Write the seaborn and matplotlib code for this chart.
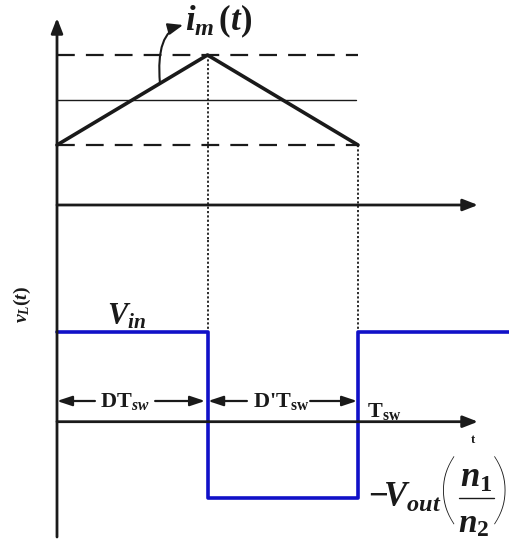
import matplotlib
matplotlib.use("Agg")
import matplotlib.pyplot as plt
import seaborn as sns

sns.set_theme(style="white")
plt.rcParams["font.family"] = ["Liberation Serif", "DejaVu Serif"]
plt.rcParams["mathtext.fontset"] = "custom"
plt.rcParams["mathtext.rm"] = "Liberation Serif:bold"
plt.rcParams["mathtext.it"] = "Liberation Serif:bold:italic"
plt.rcParams["mathtext.bf"] = "Liberation Serif:bold"

# Time axis in units of the switching period T_sw
duty = 0.5                      # D
t_edges = [0.0, duty, 1.0, 1.5]  # switching instants and right edge of the window

# Magnetising current over one period
t_current = [0.0, duty, 1.0]
i_current = [0.6, 1.5, 0.6]
i_min, i_max, i_mean = 0.6, 1.5, 1.05

# Inductor voltage levels
v_high = 1.0     # V_in
v_low = -0.85    # -V_out (n1/n2)

# Square-wave samples built from the switching instants
t_voltage = [t_edges[0], t_edges[1], t_edges[1], t_edges[2], t_edges[2], t_edges[3]]
v_voltage = [v_high, v_high, v_low, v_low, v_high, v_high]

INK = "#1a1a1a"
BLUE = "#1010c8"

W, H = 509, 542
fig = plt.figure(figsize=(W / 100, H / 100), dpi=100)
fig.patch.set_facecolor("white")

x0_px, period_px = 57, 301
xlim = (-x0_px / period_px, (W - x0_px) / period_px)
split = 240

ax_i = fig.add_axes([0, 1 - split / H, 1, split / H])
ax_v = fig.add_axes([0, 0, 1, 1 - split / H])
ax_i.set_xlim(*xlim)
ax_v.set_xlim(*xlim)
ax_i.set_ylim(-(split - 205) / 100, 205 / 100)
ax_v.set_ylim(-(H - 421.7) / 90.2, (421.7 - split) / 90.2)
for ax in (ax_i, ax_v):
    ax.axis("off")


def vy(px):
    """Lower-panel value at a given distance from the top of the figure."""
    return (421.7 - px) / 90.2


def tx(px):
    """Time value at a given distance from the left of the figure."""
    return (px - x0_px) / period_px


axis_arrow = dict(arrowstyle="-|>,head_length=0.9,head_width=0.35", lw=2,
                  color=INK, shrinkA=0, shrinkB=0, mutation_scale=10)
t_arrow_end = tx(478)

# ---- vertical axis through both panels ----
ax_v.annotate("", xy=(0, vy(18)), xytext=(0, vy(537)),
              arrowprops=axis_arrow, annotation_clip=False)

# ---- upper panel: magnetising current ----
i_bot, i_top = ax_i.get_ylim()
ax_i.annotate("", xy=(t_arrow_end, 0), xytext=(0, 0), arrowprops=axis_arrow)

ax_i.plot([0, 1.0], [i_max, i_max], color=INK, lw=1.6, ls=(0, (8, 5)))
ax_i.plot([0, 1.0], [i_min, i_min], color=INK, lw=1.6, ls=(0, (8, 5)))
ax_i.plot([0, 0.995], [i_mean, i_mean], color=INK, lw=1.0)

sns.lineplot(x=t_current, y=i_current, ax=ax_i, color=INK, lw=2.6,
             estimator=None, sort=False)

ax_i.plot([duty, duty], [i_max, i_bot], color=INK, lw=1.3, ls=(0, (1.2, 1.2)))
ax_i.plot([1.0, 1.0], [i_min, i_bot], color=INK, lw=1.3, ls=(0, (1.2, 1.2)))

ax_i.text(0.424, 1.75, r"$i_m\,(t)$", fontsize=25, ha="left", va="baseline",
          color=INK)
ax_i.annotate("", xy=(0.419, 1.80), xytext=(0.342, 1.22),
              arrowprops=dict(arrowstyle="-|>,head_length=0.9,head_width=0.35",
                              lw=1.5, color=INK, shrinkA=0, shrinkB=0,
                              mutation_scale=10,
                              connectionstyle="angle3,angleA=95,angleB=15"))

# ---- lower panel: inductor voltage ----
v_bot, v_top = ax_v.get_ylim()
ax_v.annotate("", xy=(t_arrow_end, 0), xytext=(0, 0), arrowprops=axis_arrow)

ax_v.plot([duty, duty], [v_top, v_high], color=INK, lw=1.3, ls=(0, (1.2, 1.2)))
ax_v.plot([1.0, 1.0], [v_top, v_high], color=INK, lw=1.3, ls=(0, (1.2, 1.2)))

sns.lineplot(x=t_voltage, y=v_voltage, ax=ax_v, color=BLUE, lw=2.6,
             estimator=None, sort=False)

ax_v.text(0.165, 1.075, r"$V_{in}$", fontsize=22, ha="left", va="baseline", color=INK)
ax_v.text(-0.116, 1.30, r"$v_L(t)$", fontsize=14, ha="center", va="center",
          rotation=90, color=INK)

# duration markers between the switching instants
dim_arrow = dict(arrowstyle="-|>,head_length=0.9,head_width=0.3", lw=1.6,
                 color=INK, shrinkA=0, shrinkB=0, mutation_scale=10)
y_dim = vy(401)
y_lab = vy(407)
ax_v.annotate("", xy=(0.0, y_dim), xytext=(0.126, y_dim), arrowprops=dim_arrow)
ax_v.annotate("", xy=(0.492, y_dim), xytext=(0.326, y_dim), arrowprops=dim_arrow)
ax_v.text(0.226, y_lab, r"$\mathrm{DT}_{sw}$", fontsize=16, ha="center",
          va="baseline", color=INK)
ax_v.annotate("", xy=(0.502, y_dim), xytext=(0.631, y_dim), arrowprops=dim_arrow)
ax_v.annotate("", xy=(0.997, y_dim), xytext=(0.841, y_dim), arrowprops=dim_arrow)
ax_v.text(0.746, y_lab, r"D'T$_{\mathrm{sw}}$", fontsize=16, fontweight="bold",
          ha="center", va="baseline", color=INK)
ax_v.text(1.03, vy(417), r"T$_{\mathrm{sw}}$", fontsize=16,
          fontweight="bold", ha="left", va="baseline", color=INK)
ax_v.text(tx(473), vy(440), "t", fontsize=9, fontweight="bold", ha="center",
          va="center", color=INK)

# level label of the negative half-cycle: -V_out (n1 / n2)
ax_v.text(tx(368), vy(507), r"$-\!V_{out}$", fontsize=25,
          ha="left", va="baseline", color=INK)
paren = dict(fontsize=56, fontweight="light", family=["Lato", "Liberation Sans"],
             va="center", color=INK)
ax_v.text(tx(438), vy(494), "(", ha="left", **paren)
ax_v.text(tx(510), vy(494), ")", ha="right", **paren)
ax_v.text(tx(476), vy(487), r"$n_1$", fontsize=25, ha="center", va="baseline",
          color=INK)
ax_v.text(tx(474), vy(532), r"$n_2$", fontsize=24, ha="center", va="baseline",
          color=INK)
ax_v.plot([tx(459), tx(494)], [vy(498), vy(498)], color=INK, lw=1.0,
          clip_on=False)

fig.savefig("out.png", dpi=100, facecolor="white")
